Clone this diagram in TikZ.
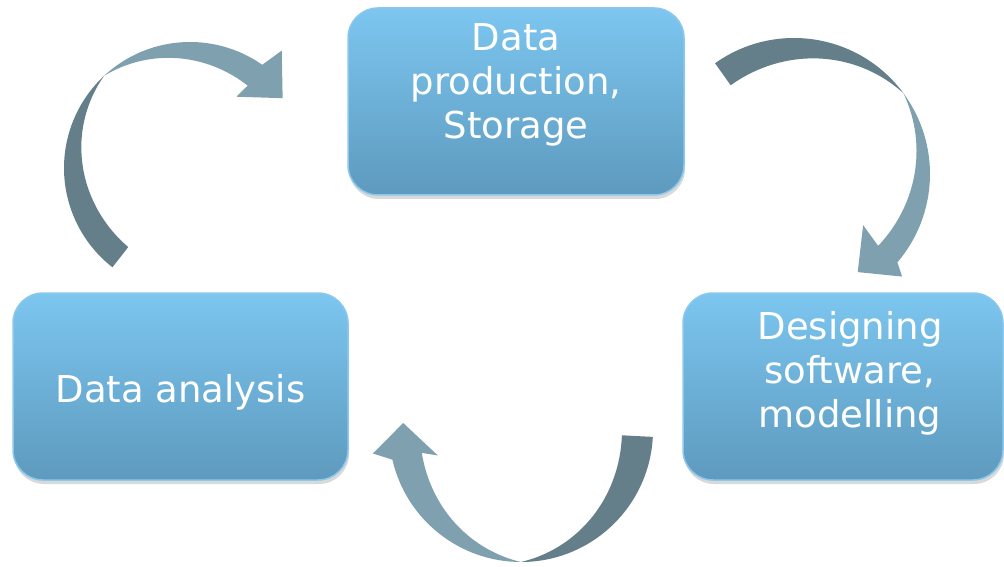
\documentclass[tikz,border=0pt]{standalone}
\usepackage{fontspec}
\newfontfamily\boxfont{DejaVu Sans}
\usetikzlibrary{shadows}
\definecolor{boxtop}{RGB}{124,198,240}
\definecolor{boxbot}{RGB}{94,154,190}
\definecolor{boxrim}{RGB}{140,200,236}
\definecolor{arrdark}{RGB}{100,127,137}
\definecolor{arrlight}{RGB}{127,161,175}
\begin{document}
\begin{tikzpicture}[
  x=1pt, y=1pt,
  bx/.style={draw=boxrim, line width=1.5pt, rounded corners=30pt,
    top color=boxtop, bottom color=boxbot, minimum height=187pt, inner sep=0pt,
    drop shadow={shadow xshift=1pt, shadow yshift=-4pt, opacity=0.3}},
  txt/.style={text=white, font=\boxfont\fontsize{37}{44}\selectfont, align=center, inner sep=0pt},
  dk/.style={fill=arrdark},
  lt/.style={fill=arrlight}
]
\useasboundingbox (0,0) rectangle (1004,566);
% ---------------- boxes ----------------
\node[bx, minimum width=336pt] (prod) at (516,464.5) {};
\node[bx, minimum width=335pt] (ana) at (180.5,179.5) {};
\node[bx, minimum width=320pt] (soft) at (843,179.5) {};
\node[txt, anchor=north] (prodtext) at (516,543) {Data\\production,\\Storage};
\node[txt, anchor=base] (anatext) at (180.5,164) {Data analysis};
\node[txt, anchor=north] (softtext) at (850,255) {Designing\\software,\\modelling};
% ---------------- arrow: analysis -> production ----------------
\begin{scope}[shift={(190,398)}, rotate=43]
  \fill[dk] (189:126) arc[start angle=189, end angle=90, radius=126]
    -- plot[domain=90:189, samples=40] (\x:{126-26*sin(\x-90)}) -- cycle;
  \fill[lt] (90:126) arc[start angle=90, end angle=12, radius=126]
    -- (9:149) -- (-6:116) -- (14:85)
    -- plot[domain=12:90, samples=40] (\x:{126-26*sin(90-\x)}) -- cycle;
\end{scope}
% ---------------- arrow: production -> software ----------------
\begin{scope}[shift={(794,392)}, rotate=-53.5]
  \fill[dk] (179:136) arc[start angle=179, end angle=90, radius=136]
    -- plot[domain=90:179, samples=40] (\x:{136-27*sin(\x-90)}) -- cycle;
  \fill[lt] (90:136) arc[start angle=90, end angle=13, radius=136]
    -- (10:149) -- (-3.5:117) -- (17:86)
    -- plot[domain=13:90, samples=40] (\x:{136-26*sin(90-\x)}) -- cycle;
\end{scope}
% ---------------- arrow: software -> analysis ----------------
\begin{scope}[shift={(521,136)}, rotate=180]
  \fill[dk] (177:132) arc[start angle=177, end angle=90, radius=132]
    -- plot[domain=90:177, samples=40] (\x:{132-31*sin(\x-90)}) -- cycle;
  \fill[lt] (90:132) arc[start angle=90, end angle=13, radius=132]
    -- (9:150) -- (-3.4:118) -- (17:87)
    -- plot[domain=13:90, samples=40] (\x:{132-31*sin(90-\x)}) -- cycle;
\end{scope}
\end{tikzpicture}
\end{document}
